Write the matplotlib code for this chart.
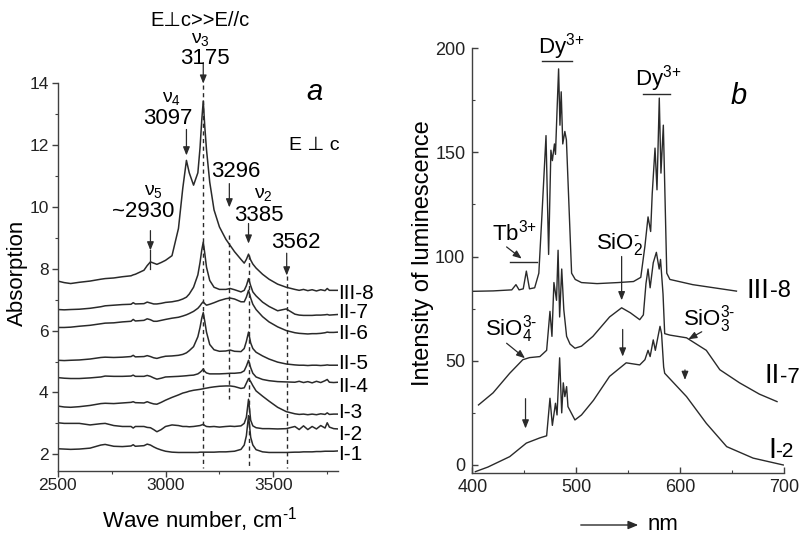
import numpy as np
import matplotlib
matplotlib.use("Agg")
import matplotlib.pyplot as plt

plt.rcParams['font.family'] = ['Liberation Sans', 'DejaVu Sans']
plt.rcParams['mathtext.fontset'] = 'custom'
plt.rcParams['mathtext.rm'] = 'Liberation Sans'
plt.rcParams['mathtext.it'] = 'Liberation Sans:italic'

# ---- panel a: IR absorption, shared wavenumber grid ----
wn = [2500, 2530, 2560, 2600, 2650, 2700, 2720, 2760, 2800, 2840, 2850, 2860, 2900, 2915, 2930,
      2945, 2960, 2980, 3000, 3030, 3060, 3080, 3097, 3110, 3130, 3150, 3160, 3168, 3175, 3182,
      3190, 3205, 3225, 3250, 3280, 3300, 3320, 3350, 3365, 3375, 3385, 3395, 3405, 3420, 3450,
      3480, 3520, 3560, 3600, 3620, 3640, 3660, 3680, 3700, 3720, 3740, 3750, 3760, 3780, 3800]

abs_I1 = [2.18, 2.17, 2.16, 2.17, 2.2, 2.3, 2.32, 2.26, 2.25, 2.27, 2.31, 2.26, 2.28, 2.33, 2.3,
          2.24, 2.19, 2.14, 2.1, 2.07, 2.06, 2.06, 2.06, 2.06, 2.06, 2.06, 2.07, 2.07, 2.07, 2.07,
          2.07, 2.07, 2.07, 2.08, 2.08, 2.09, 2.1, 2.16, 2.3, 2.6, 3.25, 2.55, 2.3, 2.15, 2.08,
          2.06, 2.06, 2.06, 2.07, 2.07, 2.08, 2.08, 2.08, 2.09, 2.09, 2.1, 2.1, 2.1, 2.1, 2.11]
abs_I2 = [3.02, 3.0, 3.0, 3.0, 2.95, 2.99, 3.0, 2.93, 2.9, 2.9, 2.85, 2.9, 2.9, 2.87, 2.86,
          2.8, 2.73, 2.8, 2.9, 2.95, 2.93, 2.9, 2.9, 2.89, 2.9, 2.92, 2.93, 2.95, 2.97, 2.93,
          2.9, 2.89, 2.9, 2.88, 2.9, 2.91, 2.9, 2.92, 3.0, 3.2, 3.78, 3.1, 2.92, 2.86, 2.83,
          2.83, 2.82, 2.83, 2.9, 2.8, 2.92, 2.8, 2.9, 2.82, 2.93, 2.85, 3.02, 2.88, 2.83, 2.82]
abs_I3 = [3.56, 3.53, 3.52, 3.54, 3.58, 3.64, 3.65, 3.64, 3.66, 3.68, 3.7, 3.67, 3.66, 3.7, 3.66,
          3.63, 3.62, 3.68, 3.75, 3.84, 3.92, 3.98, 4.01, 4.04, 4.07, 4.09, 4.1, 4.11, 4.12, 4.13,
          4.14, 4.16, 4.18, 4.2, 4.21, 4.21, 4.19, 4.13, 4.15, 4.3, 4.45, 4.35, 4.22, 4.05, 3.88,
          3.72, 3.52, 3.38, 3.31, 3.29, 3.3, 3.28, 3.3, 3.28, 3.31, 3.29, 3.34, 3.29, 3.3, 3.3]
abs_II4 = [4.48, 4.46, 4.45, 4.45, 4.47, 4.5, 4.53, 4.52, 4.52, 4.53, 4.56, 4.52, 4.52, 4.55, 4.52,
           4.47, 4.43, 4.46, 4.5, 4.51, 4.52, 4.53, 4.54, 4.55, 4.56, 4.6, 4.65, 4.7, 4.76, 4.68,
           4.63, 4.6, 4.6, 4.6, 4.61, 4.62, 4.62, 4.64, 4.7, 4.85, 5.04, 4.8, 4.62, 4.5, 4.42,
           4.38, 4.35, 4.34, 4.33, 4.36, 4.32, 4.35, 4.31, 4.36, 4.32, 4.38, 4.42, 4.33, 4.32, 4.33]
abs_II5 = [5.04, 5.03, 5.04, 5.05, 5.08, 5.13, 5.14, 5.13, 5.14, 5.16, 5.2, 5.15, 5.16, 5.19, 5.16,
           5.12, 5.1, 5.14, 5.17, 5.18, 5.2, 5.23, 5.28, 5.35, 5.48, 5.8, 6.1, 6.4, 6.58, 6.3,
           5.95, 5.55, 5.38, 5.33, 5.34, 5.37, 5.33, 5.32, 5.42, 5.65, 5.95, 5.6, 5.42, 5.3, 5.18,
           5.08, 4.98, 4.92, 4.89, 4.88, 4.88, 4.87, 4.88, 4.88, 4.87, 4.88, 4.89, 4.88, 4.88, 4.88]
abs_II6 = [6.1, 6.1, 6.11, 6.14, 6.17, 6.22, 6.24, 6.25, 6.28, 6.3, 6.36, 6.31, 6.33, 6.38, 6.35,
           6.3, 6.3, 6.33, 6.36, 6.4, 6.43, 6.47, 6.51, 6.55, 6.62, 6.72, 6.8, 6.88, 6.93, 6.87,
           6.82, 6.85, 6.9, 6.97, 7.03, 7.05, 7.02, 6.93, 6.93, 7.08, 7.3, 7.05, 6.85, 6.68, 6.45,
           6.28, 6.12, 6.0, 5.93, 5.91, 5.9, 5.89, 5.9, 5.9, 5.91, 5.93, 5.95, 5.94, 5.94, 5.95]
abs_II7 = [6.68, 6.67, 6.68, 6.69, 6.72, 6.77, 6.8, 6.82, 6.84, 6.85, 6.9, 6.86, 6.87, 6.92, 6.89,
           6.86, 6.86, 6.88, 6.91, 6.93, 6.97, 7.02, 7.08, 7.18, 7.4, 7.8, 8.2, 8.6, 8.86, 8.5,
           8.05, 7.62, 7.4, 7.33, 7.33, 7.36, 7.32, 7.25, 7.3, 7.45, 7.68, 7.45, 7.25, 7.12, 6.92,
           6.78, 6.64, 6.7, 6.53, 6.5, 6.49, 6.49, 6.49, 6.5, 6.5, 6.51, 6.52, 6.5, 6.51, 6.52]
abs_III8 = [7.6, 7.55, 7.52, 7.56, 7.6, 7.66, 7.68, 7.7, 7.74, 7.77, 7.8, 7.82, 7.95, 8.1, 8.22,
            8.18, 8.14, 8.2, 8.27, 8.42, 9.3, 10.6, 11.5, 11.1, 10.7, 11.1, 11.9, 12.8, 13.42, 12.6,
            11.85, 10.8, 9.9, 9.35, 8.95, 8.75, 8.55, 8.3, 8.18, 8.3, 8.47, 8.28, 8.15, 8.02, 7.82,
            7.66, 7.5, 7.4, 7.33, 7.3, 7.33, 7.29, 7.32, 7.28, 7.32, 7.29, 7.36, 7.3, 7.3, 7.3]

ir_series = [abs_I1, abs_I2, abs_I3, abs_II4, abs_II5, abs_II6, abs_II7, abs_III8]
ir_names = ['I-1', 'I-2', 'I-3', 'II-4', 'II-5', 'II-6', 'II-7', 'III-8']
ir_label_y = [1.98, 2.65, 3.34, 4.18, 4.94, 5.9, 6.57, 7.19]

# ---- panel b: luminescence ----
x_III8 = [400, 420, 438, 442, 445, 449, 452, 455, 460, 464, 467, 470.9, 473.4, 475.6, 477, 479,
          480, 481.5, 483, 484.3, 485.5, 487, 489, 490.5, 495.5, 499, 505, 520, 540, 555, 562,
          566, 569, 571.5, 573, 575.7, 577.6, 579.8, 581.4, 583.7, 587, 590, 612, 654]
y_III8 = [83.3, 83.5, 84, 86.5, 84, 84.5, 93, 84.5, 85, 92, 120, 158, 101, 151, 146, 154,
          149, 170, 190, 163, 179, 154, 160, 156, 92, 89, 87.5, 87, 87.5, 88, 90,
          105, 119, 112, 130, 152, 132, 176, 140, 163, 92, 89, 86.5, 83.4]
x_II7 = [406, 420, 436, 448.6, 455, 465, 471.5, 474.7, 476.6, 478.5, 481, 482.5, 484, 486, 488,
         490.7, 494, 498.7, 505, 516, 532, 543.6, 552, 561, 564.5, 567, 569, 571, 574, 577,
         579.7, 581, 583.4, 585, 590, 606, 625, 638, 657, 676, 693]
y_II7 = [28.8, 34.6, 44, 50.5, 51.5, 52, 55, 73.7, 61.7, 87.5, 79, 103, 71, 94, 74.5,
         61.7, 58, 56, 57, 61.7, 71, 75.4, 73, 69.7, 72, 87, 94, 85, 97, 102,
         94, 98.6, 82, 63, 62.3, 61, 55, 45.7, 39.4, 34, 30.4]
x_I2 = [403, 415, 436, 452, 465, 471.5, 474.7, 477, 480, 481.5, 484, 486, 487.5, 489, 490.7,
        492, 498.7, 505, 516.5, 532, 548, 561, 566, 569, 571, 574, 576, 578.6, 580.5, 582,
        584, 585, 606, 625, 644.6, 670, 699]
y_I2 = [-3.2, -1, 4, 10.5, 13, 14, 32, 19, 29.6, 24, 51.4, 25, 39.4, 32.8, 37.6,
        28, 21.6, 24, 31, 42.5, 49, 48, 50.5, 55, 52, 60, 55, 61.7, 66.5, 63,
        47, 44, 32.8, 20, 8.8, 3.3, 0]

line_col = '#2a2a2a'
ax_col = '#404040'

fig = plt.figure(figsize=(8.04, 5.41), dpi=100)
axa = fig.add_axes([0.0718, 0.1299, 0.3486, 0.7166])
axb = fig.add_axes([0.5874, 0.1251, 0.3881, 0.7861])

for ax in (axa, axb):
    for s in ('top', 'right'):
        ax.spines[s].set_visible(False)
    for s in ('left', 'bottom'):
        ax.spines[s].set_color(ax_col)
        ax.spines[s].set_linewidth(1.0)

# panel a
for ys, name, ly in zip(ir_series, ir_names, ir_label_y):
    axa.plot(wn, ys, color=line_col, lw=1.1)
    axa.text(3802, ly, name, fontsize=15, ha='left', va='center', clip_on=False)

axa.set_xlim(2500, 3800)
axa.set_ylim(1.47, 14.0)
axa.set_xticks([2500, 3000, 3500])
axa.set_xticks([2750, 3250, 3750], minor=True)
axa.set_yticks([2, 4, 6, 8, 10, 12, 14])
axa.set_yticks([3, 5, 7, 9, 11, 13], minor=True)
axa.tick_params(which='both', direction='out', colors=ax_col, labelcolor='#222222', labelsize=12.5)
axa.tick_params(which='major', length=4, width=1.0)
axa.tick_params(which='minor', length=2.5, width=0.8)
axa.tick_params(axis='x', pad=1)
axa.tick_params(axis='y', pad=2.5)

dash_kw = dict(color=line_col, lw=1.0, ls=(0, (3, 2.5)))
axa.plot([3175, 3175], [13.95, 1.55], **dash_kw)
axa.plot([3296, 3296], [9.1, 3.8], **dash_kw)
axa.plot([3385, 3385], [8.45, 1.55], **dash_kw)
axa.plot([3562, 3562], [7.75, 1.55], **dash_kw)

arr_kw = dict(arrowstyle='-|>,head_length=0.5,head_width=0.2', color=line_col, lw=0.9,
              mutation_scale=10, shrinkA=0, shrinkB=0)
for xx, y0, y1 in [(3175, 14.66, 13.98), (3097, 12.5, 11.66), (3296, 10.75, 9.98),
                   (3385, 9.46, 8.81), (2930, 9.23, 8.59), (3562, 8.5, 7.78)]:
    axa.annotate('', xy=(xx, y1), xytext=(xx, y0), arrowprops=arr_kw, annotation_clip=False)
axa.plot([2930, 2930], [8.6, 7.98], color=line_col, lw=0.9)

txt = dict(fontsize=16, ha='center', va='center', clip_on=False)
nu = dict(fontsize=14, ha='center', va='center', clip_on=False)
axa.text(3158, 16.02, 'E\u22a5c>>E//c', fontsize=14.5, ha='center', va='center')
axa.text(3160, 15.42, '\u03bd$_3$', **nu)
axa.text(3181, 14.8, '3175', **txt)
axa.text(3030, 13.5, '\u03bd$_4$', **nu)
axa.text(3011, 12.84, '3097', **txt)
axa.text(3324, 11.15, '3296', **txt)
axa.text(3452, 10.4, '\u03bd$_2$', **nu)
axa.text(3435, 9.72, '3385', **txt)
axa.text(2944, 10.5, '\u03bd$_5$', **nu)
axa.text(2896, 9.86, '~2930', **txt)
axa.text(3605, 8.86, '3562', **txt)
axa.text(3690, 11.98, 'E \u22a5 c', fontsize=14, ha='center', va='center')
axa.text(3690, 13.7, 'a', fontsize=21, style='italic', ha='center', va='center')

fig.text(17 / 804, 1 - 273 / 541, 'Absorption', rotation=90, fontsize=16, ha='center', va='center')
fig.text(200 / 804, 21 / 541, 'Wave number, cm$^{\\text{-}1}$', fontsize=16, ha='center', va='center')

# panel b
axb.plot(x_III8, y_III8, color=line_col, lw=1.0)
axb.plot(x_II7, y_II7, color=line_col, lw=1.0)
axb.plot(x_I2, y_I2, color=line_col, lw=1.0)

axb.set_xlim(400, 700)
axb.set_ylim(-4, 200)
axb.set_xticks([400, 500, 600, 700])
axb.set_xticks([450, 550, 650], minor=True)
axb.set_yticks([0, 50, 100, 150, 200])
axb.set_yticks([25, 75, 125, 175], minor=True)
axb.tick_params(which='both', direction='in', colors=ax_col, labelcolor='#222222', labelsize=13)
axb.tick_params(which='major', length=4, width=1.0)
axb.tick_params(which='minor', length=2.5, width=0.8)
axb.tick_params(axis='x', pad=4)
axb.tick_params(axis='y', pad=5)

lab = dict(fontsize=16, va='baseline')
axb.text(485, 197.4, 'Dy$^{3{+}}$', ha='center', **lab)
axb.plot([467, 496], [194, 194], color=line_col, lw=1.0)
axb.text(578.8, 181.8, 'Dy$^{3{+}}$', ha='center', **lab)
axb.plot([563.8, 590], [178, 178], color=line_col, lw=1.0)
axb.text(441, 107.5, 'Tb$^{3{+}}$', ha='center', **lab)
axb.plot([436.3, 462.6], [97.5, 97.5], color=line_col, lw=1.0)
axb.text(542, 103.6, 'SiO$_2^{\\text{-}}$', ha='center', **lab)
axb.text(412.2, 62.3, 'SiO$_4^{3\\text{-}}$', ha='left', **lab)
axb.text(602.9, 67.1, 'SiO$_3^{3\\text{-}}$', ha='left', **lab)
axb.text(656.5, 177, 'b', fontsize=21, style='italic', ha='center', va='center')

for (x0, y0), (x1, y1) in [((433, 104.6), (447.5, 99)), ((543.6, 100), (543.6, 79)),
                           ((544.6, 65), (544.6, 52)), ((433, 58.4), (450.7, 51.2)),
                           ((451.2, 31.8), (451.2, 17.5)), ((620.6, 63.9), (607.7, 60.3)),
                           ((604.5, 45.6), (604.5, 40.8))]:
    axb.annotate('', xy=(x1, y1), xytext=(x0, y0), arrowprops=arr_kw)

# curve labels: roman numeral larger than the sample number
axb.text(663.8, 80, 'III', fontsize=20, ha='left', va='baseline', clip_on=False)
axb.text(686.5, 80.4, '-8', fontsize=17, ha='left', va='baseline', clip_on=False)
axb.text(681.4, 39.2, 'II', fontsize=20, ha='left', va='baseline', clip_on=False)
axb.text(696.0, 39.2, '-7', fontsize=16, ha='left', va='baseline', clip_on=False)
axb.text(684.3, 3.2, 'I', fontsize=21, ha='left', va='baseline', clip_on=False)
axb.text(691.5, 3.6, '-2', fontsize=15, ha='left', va='baseline', clip_on=False)

fig.text(423 / 804, 1 - 253 / 541, 'Intensity of luminescence', rotation=90, fontsize=17,
         ha='center', va='center')
fig.add_artist(matplotlib.patches.FancyArrowPatch((578, 16), (641, 16), transform=None,
                                                  arrowstyle='-|>,head_length=0.6,head_width=0.25',
                                                  mutation_scale=10, color=line_col, lw=1.0))
fig.text(648 / 804, 16 / 541, 'nm', fontsize=16, ha='left', va='center')

fig.savefig('out.png', dpi=100)
